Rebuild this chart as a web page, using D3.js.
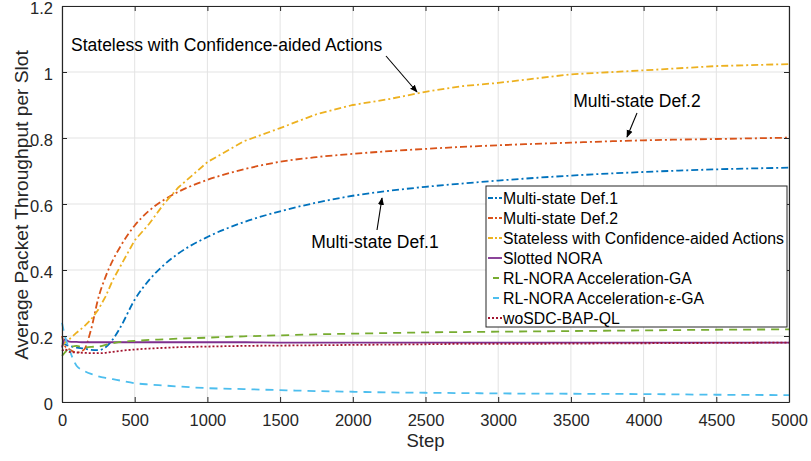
<!DOCTYPE html>
<html>
<head>
<meta charset="utf-8">
<script src="https://cdn.jsdelivr.net/npm/d3@7"></script>
<style>
  html, body { margin: 0; padding: 0; background: #fff; }
  svg { display: block; font-family: "Liberation Sans", Arial, Helvetica, sans-serif; }
</style>
</head>
<body>
<svg id="chart" width="811" height="461"></svg>
<script>
// Sample steps shared by every series
const steps = [0, 20, 50, 100, 150, 200, 250, 300, 350, 400, 500, 600, 700, 800, 1000,
  1250, 1500, 1750, 2000, 2250, 2500, 2750, 3000, 3500, 4000, 4500, 5000];

const multiStateDef1 = [0.18, 0.175, 0.17, 0.165, 0.162, 0.158, 0.157, 0.166, 0.19, 0.225, 0.31,
  0.37, 0.415, 0.45, 0.5, 0.545, 0.578, 0.604, 0.625, 0.64, 0.652, 0.662, 0.671, 0.686, 0.697, 0.705, 0.71];
const multiStateDef2 = [0.2, 0.17, 0.16, 0.15, 0.158, 0.22, 0.315, 0.38, 0.43, 0.47, 0.535,
  0.58, 0.612, 0.637, 0.673, 0.705, 0.728, 0.742, 0.752, 0.76, 0.767, 0.773, 0.778, 0.786, 0.793, 0.797, 0.801];
const stateless = [0.17, 0.18, 0.19, 0.21, 0.228, 0.25, 0.28, 0.32, 0.37, 0.41, 0.49,
  0.54, 0.6, 0.65, 0.727, 0.79, 0.83, 0.872, 0.9, 0.918, 0.94, 0.957, 0.967, 0.993, 1.005, 1.018, 1.024];
const slottedNORA = [0.165, 0.19, 0.183, 0.182, 0.181, 0.181, 0.181, 0.181, 0.181, 0.181, 0.181,
  0.181, 0.181, 0.181, 0.181, 0.181, 0.18, 0.18, 0.18, 0.18, 0.18, 0.18, 0.18, 0.18, 0.18, 0.18, 0.18];
const rlNoraGA = [0.14, 0.15, 0.165, 0.17, 0.165, 0.167, 0.168, 0.173, 0.178, 0.182, 0.185,
  0.188, 0.19, 0.192, 0.195, 0.199, 0.202, 0.205, 0.207, 0.209, 0.211, 0.212, 0.213, 0.215, 0.217, 0.219, 0.22];
const rlNoraEpsGA = [0.24, 0.2, 0.16, 0.11, 0.095, 0.085, 0.078, 0.073, 0.069, 0.065, 0.057,
  0.053, 0.05, 0.047, 0.042, 0.039, 0.036, 0.033, 0.031, 0.029, 0.028, 0.027, 0.026, 0.025, 0.024, 0.022, 0.021];
const woSDC = [0.155, 0.16, 0.152, 0.15, 0.149, 0.148, 0.148, 0.149, 0.152, 0.155, 0.159,
  0.162, 0.164, 0.166, 0.168, 0.17, 0.171, 0.172, 0.173, 0.174, 0.175, 0.176, 0.176, 0.177, 0.178, 0.179, 0.18];

const seriesNames = ["Multi-state Def.1", "Multi-state Def.2", "Stateless with Confidence-aided Actions",
  "Slotted NORA", "RL-NORA Acceleration-GA", "RL-NORA Acceleration-\u03B5-GA", "woSDC-BAP-QL"];

const xTicks = [0, 500, 1000, 1500, 2000, 2500, 3000, 3500, 4000, 4500, 5000];
const yTicks = [0, 0.2, 0.4, 0.6, 0.8, 1, 1.2];

const seriesValues = [multiStateDef1, multiStateDef2, stateless, slottedNORA, rlNoraGA, rlNoraEpsGA, woSDC];
const seriesColors = ["#0072BD", "#D95319", "#EDB120", "#7E2F8E", "#77AC30", "#4DBEEE", "#A2142F"];
const seriesDash = ["7,3,2,3", "7,3,2,3", "7,3,2,3", null, "8,6", "8,6", "2,2"];
const legendDash = ["5,2,2,2", "5,2,2,2", "5,2,2,2", null, "0,5,6,10", "0,5,6,10", "2,2"];

const svg = d3.select("#chart");
const m = { left: 62, right: 22, top: 6, bottom: 59 };
const W = 811, H = 461;
const x = d3.scaleLinear().domain([0, 5000]).range([m.left, W - m.right]);
const y = d3.scaleLinear().domain([0, 1.2]).range([H - m.bottom, m.top]);
const axisColor = "#262626";

// grid
const grid = svg.append("g");
grid.selectAll("line.gx").data(xTicks).join("line")
  .attr("x1", d => x(d)).attr("x2", d => x(d))
  .attr("y1", y(0)).attr("y2", y(1.2))
  .attr("stroke", "#e3e3e3").attr("stroke-width", 1);
grid.selectAll("line.gy").data(yTicks).join("line")
  .attr("x1", x(0)).attr("x2", x(5000))
  .attr("y1", d => y(d)).attr("y2", d => y(d))
  .attr("stroke", "#e3e3e3").attr("stroke-width", 1);

// series
const smooth = d3.line().x((d, i) => x(steps[i])).y(d => y(d)).curve(d3.curveMonotoneX);
const straight = d3.line().x((d, i) => x(steps[i])).y(d => y(d)).curve(d3.curveLinear);

const plot = svg.append("g");
seriesValues.forEach((vals, k) => {
  plot.append("path")
    .datum(vals)
    .attr("d", k === 2 ? straight : smooth)
    .attr("fill", "none")
    .attr("stroke", seriesColors[k])
    .attr("stroke-width", 1.8)
    .attr("stroke-dasharray", seriesDash[k]);
});

// axes (box with inward ticks)
const tickLen = 5;
const axes = svg.append("g");
const xAxis = d3.axisBottom(x).tickValues(xTicks).tickSizeInner(-tickLen).tickSizeOuter(0).tickPadding(12)
  .tickFormat(d3.format("d"));
const yAxis = d3.axisLeft(y).tickValues(yTicks).tickSizeInner(-tickLen).tickSizeOuter(0).tickPadding(9)
  .tickFormat(d => d === 0 ? "0" : String(+d.toFixed(1)));
const gx = axes.append("g").attr("transform", `translate(0,${y(0)})`).call(xAxis);
const gy = axes.append("g").attr("transform", `translate(${x(0)},0)`).call(yAxis);
const gxTop = axes.append("g").attr("transform", `translate(0,${y(1.2)})`)
  .call(d3.axisTop(x).tickValues(xTicks).tickSizeInner(-tickLen).tickSizeOuter(0).tickFormat(""));
const gyRight = axes.append("g").attr("transform", `translate(${x(5000)},0)`)
  .call(d3.axisRight(y).tickValues(yTicks).tickSizeInner(-tickLen).tickSizeOuter(0).tickFormat(""));
[gx, gy, gxTop, gyRight].forEach(g => {
  g.select(".domain").attr("stroke", axisColor).attr("stroke-width", 1.2);
  g.selectAll(".tick line").attr("stroke", axisColor).attr("stroke-width", 1);
  g.selectAll(".tick text").attr("fill", axisColor).style("font-size", "16.5px")
    .style("font-family", "'Liberation Sans', Arial, sans-serif");
});
gy.selectAll(".tick text").attr("dy", "0.46em");

// axis titles
svg.append("text")
  .attr("x", (x(0) + x(5000)) / 2).attr("y", 447)
  .attr("text-anchor", "middle").attr("fill", axisColor)
  .style("font-size", "18.5px").text("Step");
svg.append("text")
  .attr("transform", `translate(28,${(y(0) + y(1.2)) / 2 + 1}) rotate(-90)`)
  .attr("text-anchor", "middle").attr("fill", axisColor)
  .style("font-size", "19.2px").text("Average Packet Throughput per Slot");

// annotations with arrows
const defs = svg.append("defs");
defs.append("marker").attr("id", "arrowhead")
  .attr("viewBox", "0 0 10 10").attr("refX", 9).attr("refY", 5)
  .attr("markerWidth", 7).attr("markerHeight", 7).attr("orient", "auto")
  .append("path").attr("d", "M0,1 L10,5 L0,9 Z").attr("fill", "#000");

const notes = [
  { text: seriesNames[2], tx: 71, ty: 51, anchor: "start", from: [386, 56], to: [417, 92] },
  { text: seriesNames[1], tx: 637, ty: 107, anchor: "middle", from: [637, 113], to: [627, 137] },
  { text: seriesNames[0], tx: 375, ty: 248, anchor: "middle", from: [377, 230], to: [382, 198] }
];
notes.forEach(n => {
  svg.append("text").attr("x", n.tx).attr("y", n.ty).attr("text-anchor", n.anchor)
    .attr("fill", "#000").style("font-size", "17.5px").text(n.text);
  svg.append("line")
    .attr("x1", n.from[0]).attr("y1", n.from[1]).attr("x2", n.to[0]).attr("y2", n.to[1])
    .attr("stroke", "#000").attr("stroke-width", 1.1).attr("marker-end", "url(#arrowhead)");
});

// legend
const lg = svg.append("g").attr("transform", "translate(486,186)");
lg.append("rect").attr("width", 301).attr("height", 141)
  .attr("fill", "#fff").attr("stroke", axisColor).attr("stroke-width", 1);
seriesNames.forEach((name, k) => {
  const cy = 12 + k * 20;
  lg.append("line").attr("x1", 2).attr("x2", 16).attr("y1", cy).attr("y2", cy)
    .attr("stroke", seriesColors[k]).attr("stroke-width", 1.8)
    .attr("stroke-dasharray", legendDash[k]);
  lg.append("text").attr("x", 17).attr("y", cy + 5.5).attr("fill", "#000")
    .style("font-size", "15.8px").text(name);
});
</script>
</body>
</html>
